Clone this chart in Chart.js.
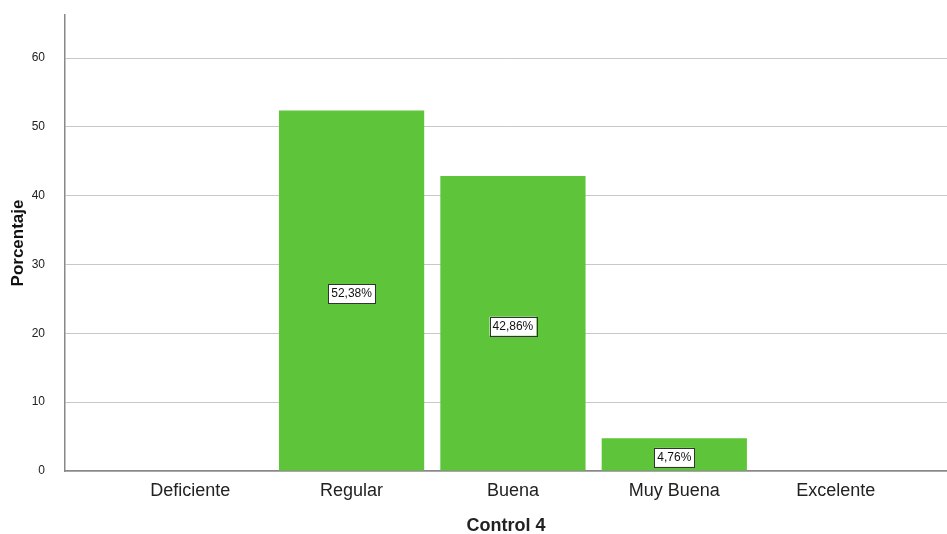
<!DOCTYPE html>
<html>
<head>
<meta charset="utf-8">
<script src="https://cdn.jsdelivr.net/npm/chart.js@4"></script>
<style>
  html, body { margin: 0; padding: 0; background: #fff; }
  #wrap { width: 947px; height: 534px; }
</style>
</head>
<body>
<div id="wrap"><canvas id="grafiek" width="947" height="534"></canvas></div>
<script>
const categorieen = ['Deficiente', 'Regular', 'Buena', 'Muy Buena', 'Excelente'];
const percentages = [0, 52.38, 42.86, 4.76, 0];
const yTicks = [0, 10, 20, 30, 40, 50, 60];

const fmtPct = v => v.toFixed(2).replace('.', ',') + '%';

// labels in witte kaders midden in de staaf
const labelPlugin = {
    id: 'labelPlugin',
    afterDatasetsDraw(chart) {
        const ctx = chart.ctx;
        const meta = chart.getDatasetMeta(0);
        ctx.save();
        ctx.font = '12px "Liberation Sans", Arial, sans-serif';
        ctx.textAlign = 'center';
        ctx.textBaseline = 'middle';
        meta.data.forEach((bar, i) => {
            const v = percentages[i];
            if (!v) return;
            const tekst = fmtPct(v);
            const w = ctx.measureText(tekst).width + 6;
            const h = 19;
            const cx = bar.x;
            const cy = (bar.y + bar.base) / 2 + 3;
            ctx.fillStyle = '#ffffff';
            ctx.fillRect(cx - w / 2, cy - h / 2, w, h);
            ctx.strokeStyle = '#333333';
            ctx.lineWidth = 1;
            ctx.strokeRect(Math.round(cx - w / 2) + 0.5, Math.round(cy - h / 2) + 0.5, Math.round(w), h);
            ctx.fillStyle = '#111111';
            ctx.fillText(tekst, cx, cy + 0.5);
        });
        ctx.restore();
    }
};

new Chart(document.getElementById('grafiek'), {
    type: 'bar',
    data: {
        datasets: [{
            label: 'Porcentaje',
            data: percentages.map((v, i) => ({ x: i, y: v })),
            backgroundColor: '#5ec43a',
            borderWidth: 0,
            barPercentage: 0.9,
            categoryPercentage: 1.0
        }]
    },
    options: {
        responsive: false,
        animation: false,
        layout: { padding: { top: 15, left: 0, right: 0, bottom: 0 } },
        plugins: { legend: { display: false }, tooltip: { enabled: false } },
        scales: {
            x: {
                type: 'linear',
                offset: false,
                min: -0.776,
                max: 4.69,
                afterBuildTicks: s => { s.ticks = categorieen.map((_, i) => ({ value: i })); },
                afterFit: s => { s.height = 63; s.paddingLeft = 0; s.paddingRight = 0; },
                grid: { display: false, drawTicks: false },
                border: { display: true, color: '#888888', width: 1.5 },
                ticks: {
                    callback: v => categorieen[v] ?? '',
                    color: '#222222',
                    padding: 9,
                    maxRotation: 0,
                    autoSkip: false,
                    font: { family: '"Liberation Sans", Arial, sans-serif', size: 18 }
                },
                title: {
                    display: true,
                    text: 'Control 4',
                    color: '#222222',
                    padding: { top: 0, bottom: -3 },
                    font: { family: '"Liberation Sans", Arial, sans-serif', size: 18, weight: 'bold' }
                }
            },
            y: {
                min: 0,
                max: 66.25,
                afterBuildTicks: s => { s.ticks = yTicks.map(v => ({ value: v })); },
                afterFit: s => { s.width = 65; s.paddingTop = 0; s.paddingBottom = 0; },
                grid: { color: '#c8c8c8', lineWidth: 1, drawTicks: false },
                border: { display: true, color: '#888888', width: 1.5 },
                ticks: {
                    color: '#222222',
                    padding: 20,
                    font: { family: '"Liberation Sans", Arial, sans-serif', size: 12 }
                },
                title: {
                    display: true,
                    text: 'Porcentaje',
                    color: '#111111',
                    padding: { top: 8, bottom: 0 },
                    font: { family: '"Liberation Sans", Arial, sans-serif', size: 17, weight: 'bold' }
                }
            }
        }
    },
    plugins: [labelPlugin]
});
</script>
</body>
</html>
